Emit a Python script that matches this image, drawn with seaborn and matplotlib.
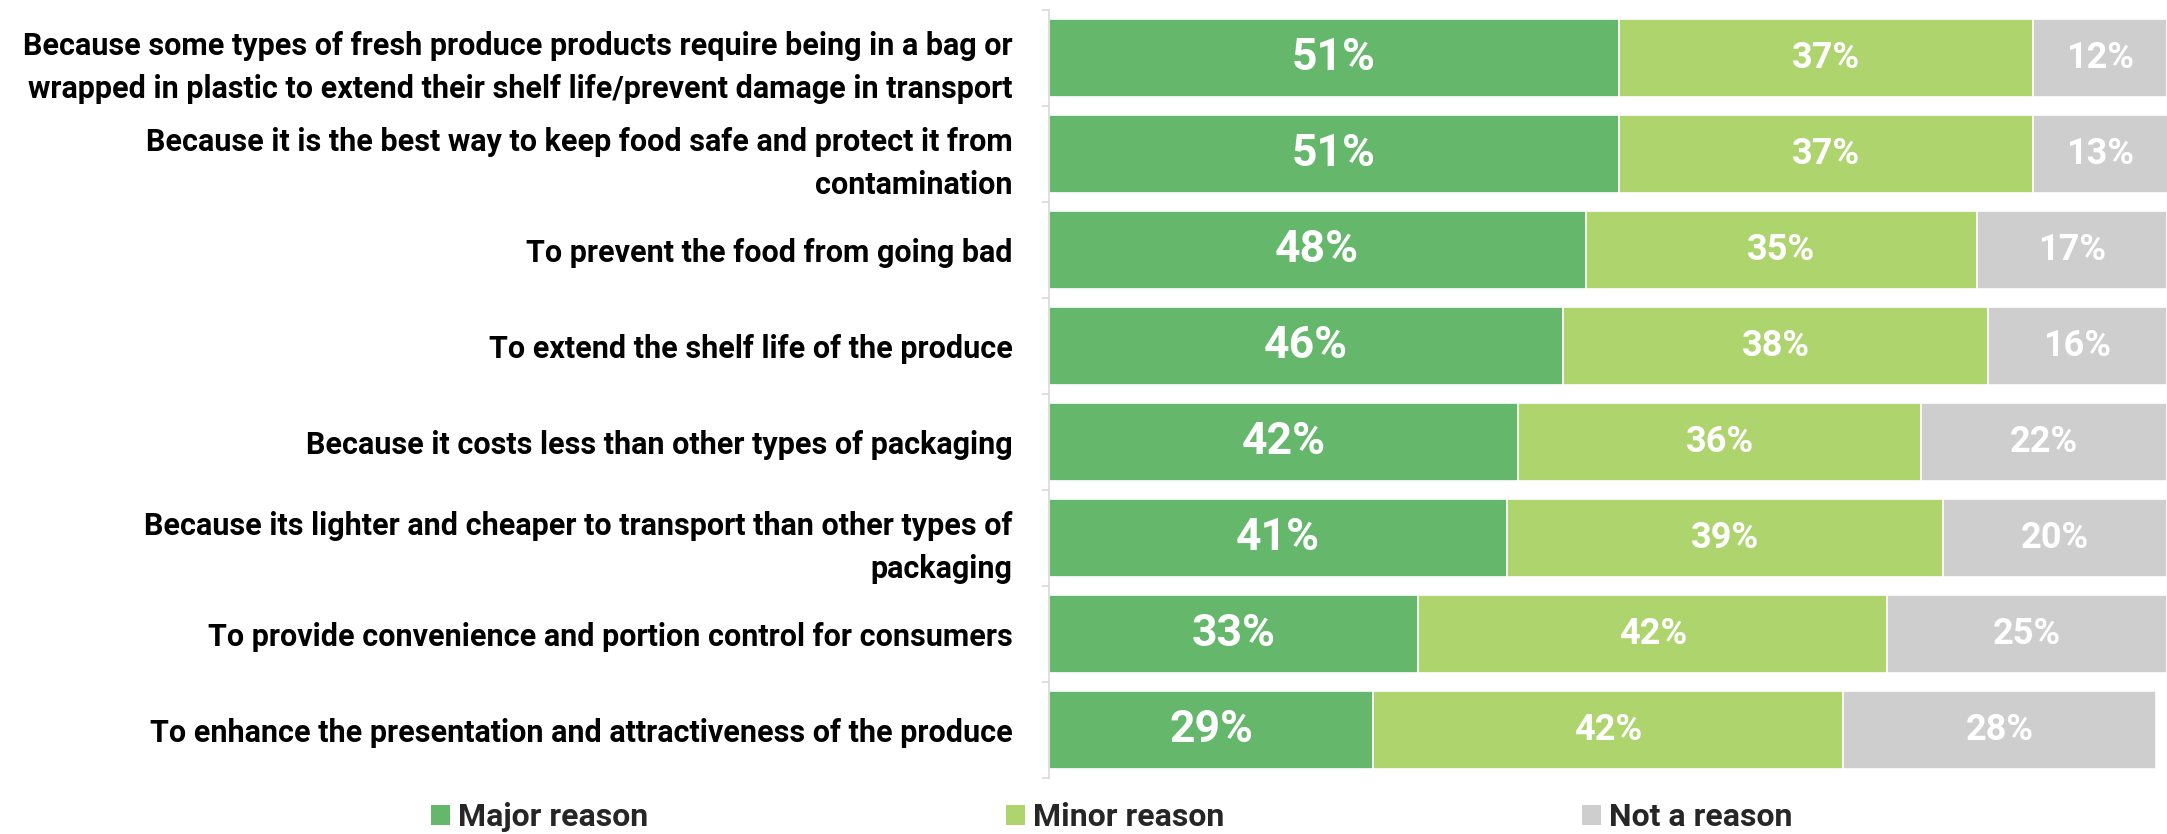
import matplotlib
matplotlib.use("Agg")
import matplotlib.pyplot as plt
import seaborn as sns
from matplotlib.patches import Patch

# Survey reasons and share of respondents per answer
categories = [
    "Because some types of fresh produce products require being in a bag or\nwrapped in plastic to extend their shelf life/prevent damage in transport",
    "Because it is the best way to keep food safe and protect it from\ncontamination",
    "To prevent the food from going bad",
    "To extend the shelf life of the produce",
    "Because it costs less than other types of packaging",
    "Because its lighter and cheaper to transport than other types of\npackaging",
    "To provide convenience and portion control for consumers",
    "To enhance the presentation and attractiveness of the produce",
]
major = [51, 51, 48, 46, 42, 41, 33, 29]
minor = [37, 37, 35, 38, 36, 39, 42, 42]
not_reason = [12, 13, 17, 16, 22, 20, 25, 28]
series_names = ["Major reason", "Minor reason", "Not a reason"]

colors = ["#65B76B", "#AED46E", "#CDCECD"]

sns.set_theme(style="white")
plt.rcParams["font.family"] = ["Roboto", "DejaVu Sans"]
plt.rcParams["font.weight"] = "bold"

fig = plt.figure(figsize=(21.67, 8.34), dpi=100)
ax = fig.add_axes([0.484, 0.067, 0.516, 0.921])

series = [major, minor, not_reason]
label_sizes = [32, 26, 26]
left = [0] * len(categories)
for vals, col, size in zip(series, colors, label_sizes):
    sns.barplot(x=vals, y=categories, color=col, saturation=1, orient="h",
                width=0.81, left=left, edgecolor="white", linewidth=1.2, ax=ax)
    cont = ax.containers[-1]
    ax.bar_label(cont, labels=[f"{v}%" for v in vals], label_type="center",
                 color="white", fontsize=size, fontweight="bold")
    left = [l + v for l, v in zip(left, vals)]

ax.set_xlim(0, 100)
ax.set_ylim(len(categories) - 0.5, -0.5)
ax.set_xlabel("")
ax.set_ylabel("")
ax.set_xticks([])

# category labels at bar centres, small ticks at the boundaries
ax.tick_params(axis="y", which="major", length=0, pad=26, labelsize=22,
               labelcolor="black")
for t in ax.get_yticklabels():
    t.set_fontweight("bold")
    t.set_linespacing(1.55)
ax.set_yticks([i - 0.5 for i in range(len(categories) + 1)], minor=True)
ax.tick_params(axis="y", which="minor", left=True, length=5, width=1.2,
               color="#D9D9D9")

for side in ["top", "right", "bottom"]:
    ax.spines[side].set_visible(False)
ax.spines["left"].set_color("#D9D9D9")
ax.spines["left"].set_linewidth(1.2)

handles = [Patch(facecolor=c, edgecolor="none") for c in colors]
fig.legend(handles, series_names, loc="center", bbox_to_anchor=(0.513, 0.02),
           ncol=3, frameon=False, handlelength=0.6,
           handleheight=0.6, handletextpad=0.25, columnspacing=11.2,
           prop={"weight": "bold", "size": 23})

fig.savefig("out.png", dpi=100)
